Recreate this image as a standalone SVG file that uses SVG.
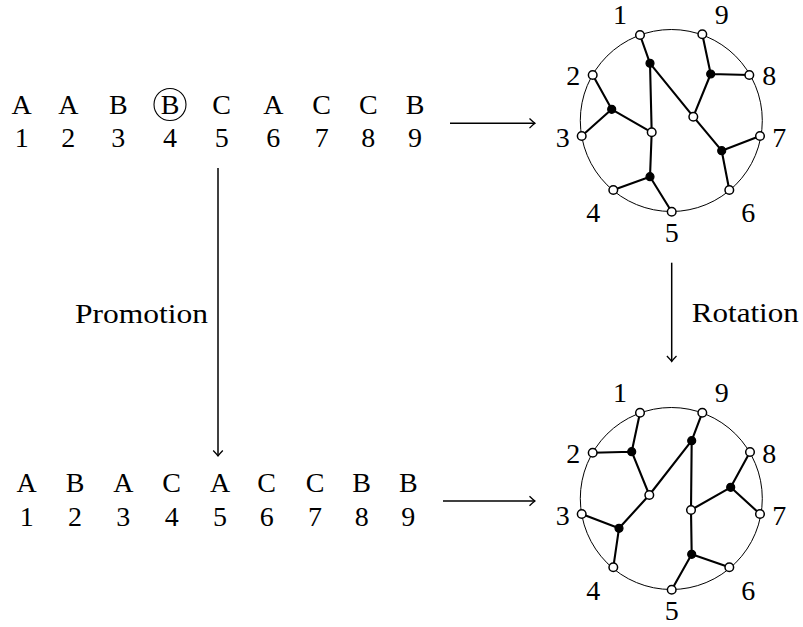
<svg xmlns="http://www.w3.org/2000/svg" width="803" height="627" viewBox="0 0 803 627" font-family="Liberation Serif, Times New Roman, serif" font-size="28">
<defs>
<style>
text{fill:#000;text-anchor:middle}
.e{stroke:#000;stroke-width:2.1;fill:none;stroke-linejoin:round}
.a{stroke:#000;stroke-width:1.5;fill:none}
.rim{stroke:#000;stroke-width:1;fill:none}
.w{fill:#fff;stroke:#000;stroke-width:1.5}
.b{fill:#000;stroke:#000;stroke-width:1.2}
</style>
<marker id="tip" markerUnits="userSpaceOnUse" viewBox="-7 -6 8 12" refX="0" refY="0" markerWidth="8" markerHeight="12" orient="auto">
<path d="M -5.5 -4.8 Q -1.8 -1.2 0 0 Q -1.8 1.2 -5.5 4.8" stroke="#000" stroke-width="1.3" fill="none"/>
</marker>
</defs>

<g id="seq-top">
<text x="21.7" y="113.5">A</text><text x="68.3" y="113.5">A</text><text x="118.3" y="113.5">B</text><text x="170" y="113.5">B</text><text x="221.7" y="113.5">C</text><text x="273.3" y="113.5">A</text><text x="321.7" y="113.5">C</text><text x="368.3" y="113.5">C</text><text x="415" y="113.5">B</text>
<text x="21.7" y="147">1</text><text x="68.3" y="147">2</text><text x="118.3" y="147">3</text><text x="170" y="147">4</text><text x="221.7" y="147">5</text><text x="273.3" y="147">6</text><text x="321.7" y="147">7</text><text x="368.3" y="147">8</text><text x="415" y="147">9</text>
<circle cx="170" cy="104.5" r="16" fill="none" stroke="#000" stroke-width="1.1"/>
</g>

<g id="seq-bottom">
<text x="26.7" y="492">A</text><text x="75" y="492">B</text><text x="123.3" y="492">A</text><text x="171.7" y="492">C</text><text x="220" y="492">A</text><text x="266.7" y="492">C</text><text x="315" y="492">C</text><text x="361.7" y="492">B</text><text x="408.3" y="492">B</text>
<text x="26.7" y="526">1</text><text x="75" y="526">2</text><text x="123.3" y="526">3</text><text x="171.7" y="526">4</text><text x="220" y="526">5</text><text x="266.7" y="526">6</text><text x="315" y="526">7</text><text x="361.7" y="526">8</text><text x="408.3" y="526">9</text>
</g>

<g id="connectors">
<line class="a" x1="450" y1="123.3" x2="535" y2="123.3" marker-end="url(#tip)"/>
<line class="a" x1="443" y1="501" x2="535" y2="501" marker-end="url(#tip)"/>
<line class="a" x1="218" y1="168" x2="218" y2="456" marker-end="url(#tip)"/>
<line class="a" x1="671.7" y1="262.7" x2="671.7" y2="361.5" marker-end="url(#tip)"/>
</g>
<g id="label-promotion"><text x="141.5" y="323" textLength="133" lengthAdjust="spacingAndGlyphs">Promotion</text></g>
<g id="label-rotation"><text x="745.3" y="321.7" textLength="107" lengthAdjust="spacingAndGlyphs">Rotation</text></g>

<g id="diagram-top">
<circle class="rim" cx="671.3" cy="120.5" r="91"/>
<g id="edges-top">
<path class="e" d="M640 35L650 63.3L651.7 132.3M650 63.3L693.3 116.7M702.3 34.3L710.7 74L749.3 75M710.7 74L693.3 116.7M592.7 75L611.7 109.3L581.7 136M611.7 109.3L651.7 132.3M693.3 116.7L721.7 150.7L760 136M721.7 150.7L729.3 190M651.7 132.3L650 176.7L613.3 190M650 176.7L671.7 211.7"/>
</g>
<g id="nodes-top">
<circle class="w" cx="640" cy="35" r="4.3"/><circle class="w" cx="702.3" cy="34.3" r="4.3"/><circle class="w" cx="592.7" cy="75" r="4.3"/><circle class="w" cx="749.3" cy="75" r="4.3"/><circle class="w" cx="581.7" cy="136" r="4.3"/><circle class="w" cx="760" cy="136" r="4.3"/><circle class="w" cx="613.3" cy="190" r="4.3"/><circle class="w" cx="729.3" cy="190" r="4.3"/><circle class="w" cx="671.7" cy="211.7" r="4.3"/>
<circle class="w" cx="651.7" cy="132.3" r="4.3"/><circle class="w" cx="693.3" cy="116.7" r="4.3"/>
<circle class="b" cx="650" cy="63.3" r="4"/><circle class="b" cx="710.7" cy="74" r="4"/><circle class="b" cx="611.7" cy="109.3" r="4"/><circle class="b" cx="721.7" cy="150.7" r="4"/><circle class="b" cx="650" cy="176.7" r="4"/>
</g>
<g id="labels-top">
<text x="620" y="23.5">1</text><text x="721.7" y="23.5">9</text><text x="573.3" y="85">2</text><text x="769.3" y="85">8</text><text x="562.7" y="146.7">3</text><text x="779.3" y="146.7">7</text><text x="593.3" y="221.7">4</text><text x="748.3" y="221.7">6</text><text x="671.7" y="242">5</text>
</g>
</g>

<g id="diagram-bottom">
<circle class="rim" cx="671.3" cy="498.5" r="91"/>
<g id="edges-bottom">
<path class="e" d="M640 412.7L631.7 451.7L592.7 452.7M631.7 451.7L649.3 495M702.3 412.7L691.7 440.7L649.3 495M691.7 440.7L691 510M581.7 514L619 528.3L613.3 567.3M619 528.3L649.3 495M750 452L730.7 487.3L760 514M730.7 487.3L691 510L691.7 554.3L671.7 589.7M691.7 554.3L729.3 567.3"/>
</g>
<g id="nodes-bottom">
<circle class="w" cx="640" cy="412.7" r="4.3"/><circle class="w" cx="702.3" cy="412.7" r="4.3"/><circle class="w" cx="592.7" cy="452.7" r="4.3"/><circle class="w" cx="750" cy="452" r="4.3"/><circle class="w" cx="581.7" cy="514" r="4.3"/><circle class="w" cx="760" cy="514" r="4.3"/><circle class="w" cx="613.3" cy="567.3" r="4.3"/><circle class="w" cx="729.3" cy="567.3" r="4.3"/><circle class="w" cx="671.7" cy="589.7" r="4.3"/>
<circle class="w" cx="649.3" cy="495" r="4.3"/><circle class="w" cx="691" cy="510" r="4.3"/>
<circle class="b" cx="631.7" cy="451.7" r="4"/><circle class="b" cx="691.7" cy="440.7" r="4"/><circle class="b" cx="619" cy="528.3" r="4"/><circle class="b" cx="730.7" cy="487.3" r="4"/><circle class="b" cx="691.7" cy="554.3" r="4"/>
</g>
<g id="labels-bottom">
<text x="620" y="401.5">1</text><text x="721.7" y="401.5">9</text><text x="573.3" y="463">2</text><text x="769.3" y="463">8</text><text x="562.7" y="524.7">3</text><text x="779.3" y="524.7">7</text><text x="593.3" y="599.7">4</text><text x="748.3" y="599.7">6</text><text x="671.7" y="620">5</text>
</g>
</g>
</svg>
